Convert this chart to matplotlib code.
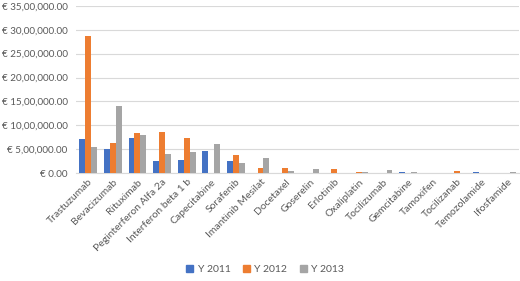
import numpy as np
import matplotlib
matplotlib.use('Agg')
import matplotlib.pyplot as plt
from matplotlib.ticker import FuncFormatter, MultipleLocator
from matplotlib.patches import Patch

plt.rcParams['font.family'] = ['Lato', 'DejaVu Sans']

# 薬剤名
drugs = ['Trastuzumab', 'Bevacizumab', 'Rituximab', 'Peginterferon Alfa 2a',
         'Interferon beta 1 b', 'Capecitabine', 'Sorafenib', 'Imantinib Mesilat',
         'Docetaxel', 'Goserelin', 'Erlotinib', 'Oxaliplatin', 'Tocilizumab',
         'Gemcitabine', 'Tamoxifen', 'Tocilizanab', 'Temozolamide', 'Ifosfamide']

# 年ごとの金額（€）
y2011 = [715000, 512000, 729000, 260000, 274000, 463000, 252000, 0,
         0, 0, 0, 10000, 0, 21000, 0, 0, 14000, 0]
y2012 = [2876000, 638000, 849000, 870000, 736000, 0, 386000, 112000,
         105000, 0, 77000, 21000, 0, 0, 7000, 35000, 0, 0]
y2013 = [554000, 1410000, 800000, 400000, 449000, 610000, 203000, 316000,
         35000, 84000, 0, 21000, 56000, 14000, 3000, 0, 7000, 28000]

series = [('Y 2011', y2011, '#4472C4'),
          ('Y 2012', y2012, '#ED7D31'),
          ('Y 2013', y2013, '#A5A5A5')]


def indian_fmt(v, pos=None):
    s = str(int(round(v)))
    last3 = s[-3:]
    rest = s[:-3]
    groups = []
    while len(rest) > 2:
        groups.insert(0, rest[-2:])
        rest = rest[:-2]
    if rest:
        groups.insert(0, rest)
    out = ','.join(groups + [last3]) if groups else last3
    return f'€ {out}.00'


fig = plt.figure(figsize=(5.2, 2.81), dpi=100)
ax = fig.add_axes([0.146, 0.384, 0.852, 0.595])

x = np.arange(len(drugs))
w = 0.24
for i, (name, vals, col) in enumerate(series):
    ax.bar(x + (i - 1) * w, vals, width=w, color=col, label=name, zorder=3)

ax.set_xlim(-0.5, len(drugs) - 0.5)
ax.set_ylim(0, 3500000)
ax.yaxis.set_major_locator(MultipleLocator(500000))
ax.yaxis.set_major_formatter(FuncFormatter(indian_fmt))
ax.grid(axis='y', color='#D9D9D9', linewidth=0.8, zorder=0)
for s in ['top', 'right', 'left']:
    ax.spines[s].set_visible(False)
ax.spines['bottom'].set_color('#D9D9D9')
ax.tick_params(axis='both', length=0, colors='#595959', labelsize=7.5)
ax.tick_params(axis='y', pad=6, labelsize=7.1)
ax.tick_params(axis='x', pad=3)
ax.set_xticks(x)
ax.set_xticklabels(drugs, rotation=45, ha='right', rotation_mode='anchor')

handles = [Patch(color=c, label=n) for n, _, c in series]
fig.legend(handles=handles, loc='lower center', bbox_to_anchor=(0.51, -0.01),
           ncol=3, frameon=False, fontsize=7.5, labelcolor='#595959',
           handlelength=0.7, handleheight=0.7, handletextpad=0.4, columnspacing=1.2)

fig.savefig('out.png', dpi=100)
